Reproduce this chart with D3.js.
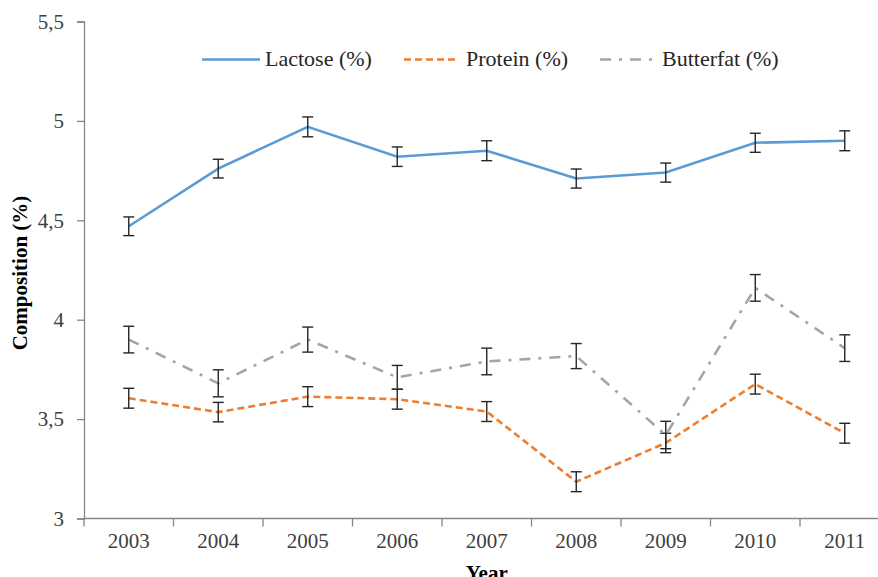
<!DOCTYPE html>
<html>
<head>
<meta charset="utf-8">
<script src="https://cdn.jsdelivr.net/npm/d3@7"></script>
<style>
  body { margin: 0; background: #fff; }
  svg { display: block; }
</style>
</head>
<body>
<svg id="chart" width="878" height="577"></svg>
<script>
// data
var years = ["2003", "2004", "2005", "2006", "2007", "2008", "2009", "2010", "2011"];
var lactose      = [4.47, 4.76, 4.97, 4.82, 4.85, 4.71, 4.74, 4.89, 4.90];
var lactoseErr   = [0.047, 0.047, 0.05, 0.049, 0.05, 0.048, 0.048, 0.048, 0.05];
var protein      = [3.605, 3.535, 3.613, 3.60, 3.538, 3.185, 3.38, 3.676, 3.429];
var proteinErr   = [0.05, 0.049, 0.05, 0.05, 0.05, 0.05, 0.049, 0.05, 0.05];
var butterfat    = [3.90, 3.68, 3.90, 3.71, 3.79, 3.817, 3.42, 4.16, 3.857];
var butterfatErr = [0.067, 0.068, 0.063, 0.06, 0.067, 0.063, 0.069, 0.067, 0.067];
var yTicks = [3, 3.5, 4, 4.5, 5, 5.5];

var series = [
  {name: "Lactose (%)",   values: lactose,   err: lactoseErr,   color: "#5B9BD5", dash: null},
  {name: "Protein (%)",   values: protein,   err: proteinErr,   color: "#ED7D31", dash: "7,4"},
  {name: "Butterfat (%)", values: butterfat, err: butterfatErr, color: "#A5A5A5", dash: "11,8,3,8"}
];

var serif = "'Liberation Serif', 'Times New Roman', serif";
var svg = d3.select("#chart").attr("font-family", serif);
var mLeft = 84, mRight = 889.5, mTop = 21.5, mBottom = 518.5;

var x = d3.scaleBand().domain(years).range([mLeft, mRight]);
var y = d3.scaleLinear().domain([3, 5.5]).range([mBottom, mTop]);
var cx = function(i){ return x(years[i]) + x.bandwidth() / 2; };

var axisColor = "#868686";

// y axis
var yAxis = svg.append("g").attr("transform", "translate(" + mLeft + ",0)")
  .call(d3.axisLeft(y).tickValues(yTicks).tickSize(7).tickPadding(13)
    .tickFormat(function(d){ return String(d).replace(".", ","); }));
yAxis.attr("font-family", serif);
yAxis.select(".domain").attr("stroke", axisColor).attr("stroke-width", 1.3);
yAxis.selectAll(".tick line").attr("stroke", axisColor).attr("stroke-width", 1.3);
yAxis.selectAll(".tick text").attr("font-size", 21).attr("fill", "#404040");

// x axis: line, boundary ticks, centred labels
var xg = svg.append("g");
xg.append("line").attr("x1", mLeft).attr("x2", 878).attr("y1", mBottom).attr("y2", mBottom)
  .attr("stroke", axisColor).attr("stroke-width", 1.3);
var bounds = years.map(function(d){ return x(d); }).concat([mRight]);
xg.selectAll("line.tk").data(bounds).enter().append("line").attr("class", "tk")
  .attr("x1", function(d){ return d; }).attr("x2", function(d){ return d; })
  .attr("y1", mBottom).attr("y2", mBottom + 8)
  .attr("stroke", axisColor).attr("stroke-width", 1.3);
xg.selectAll("text").data(years).enter().append("text")
  .attr("x", function(d, i){ return cx(i); }).attr("y", 548)
  .attr("text-anchor", "middle").attr("font-size", 21).attr("fill", "#404040")
  .text(function(d){ return d; });

// axis titles
svg.append("text").attr("x", (mLeft + mRight) / 2).attr("y", 580)
  .attr("text-anchor", "middle").attr("font-size", 21).attr("font-weight", "bold")
  .attr("fill", "#000").text("Year");
svg.append("text").attr("transform", "translate(27," + ((mTop + mBottom) / 2 + 3) + ") rotate(-90)")
  .attr("text-anchor", "middle").attr("font-size", 21).attr("font-weight", "bold")
  .attr("fill", "#000").text("Composition (%)");

// series lines and error bars
var line = d3.line().x(function(d, i){ return cx(i); }).y(function(d){ return y(d); });

series.forEach(function(s){
  svg.append("path").datum(s.values)
    .attr("d", line).attr("fill", "none")
    .attr("stroke", s.color).attr("stroke-width", 2.6)
    .attr("stroke-dasharray", s.dash);

  var eb = svg.append("g").attr("stroke", "#262626").attr("stroke-width", 1.4);
  s.values.forEach(function(v, i){
    var hi = y(v + s.err[i]), lo = y(v - s.err[i]), px = cx(i);
    eb.append("line").attr("x1", px).attr("x2", px).attr("y1", hi).attr("y2", lo);
    eb.append("line").attr("x1", px - 5.5).attr("x2", px + 5.5).attr("y1", hi).attr("y2", hi);
    eb.append("line").attr("x1", px - 5.5).attr("x2", px + 5.5).attr("y1", lo).attr("y2", lo);
  });
});

// legend
var legendPos = [202, 404, 600];
var legendLen = [58, 51, 52];
var legendText = [265, 466, 662];
var lg = svg.append("g");
series.forEach(function(s, i){
  var lx = legendPos[i];
  lg.append("line").attr("x1", lx).attr("x2", lx + legendLen[i])
    .attr("y1", 59.5).attr("y2", 59.5)
    .attr("stroke", s.color).attr("stroke-width", 2.6).attr("stroke-dasharray", s.dash);
  lg.append("text").attr("x", legendText[i]).attr("y", 66)
    .attr("font-size", 22).attr("fill", "#262626").text(s.name);
});
</script>
</body>
</html>
